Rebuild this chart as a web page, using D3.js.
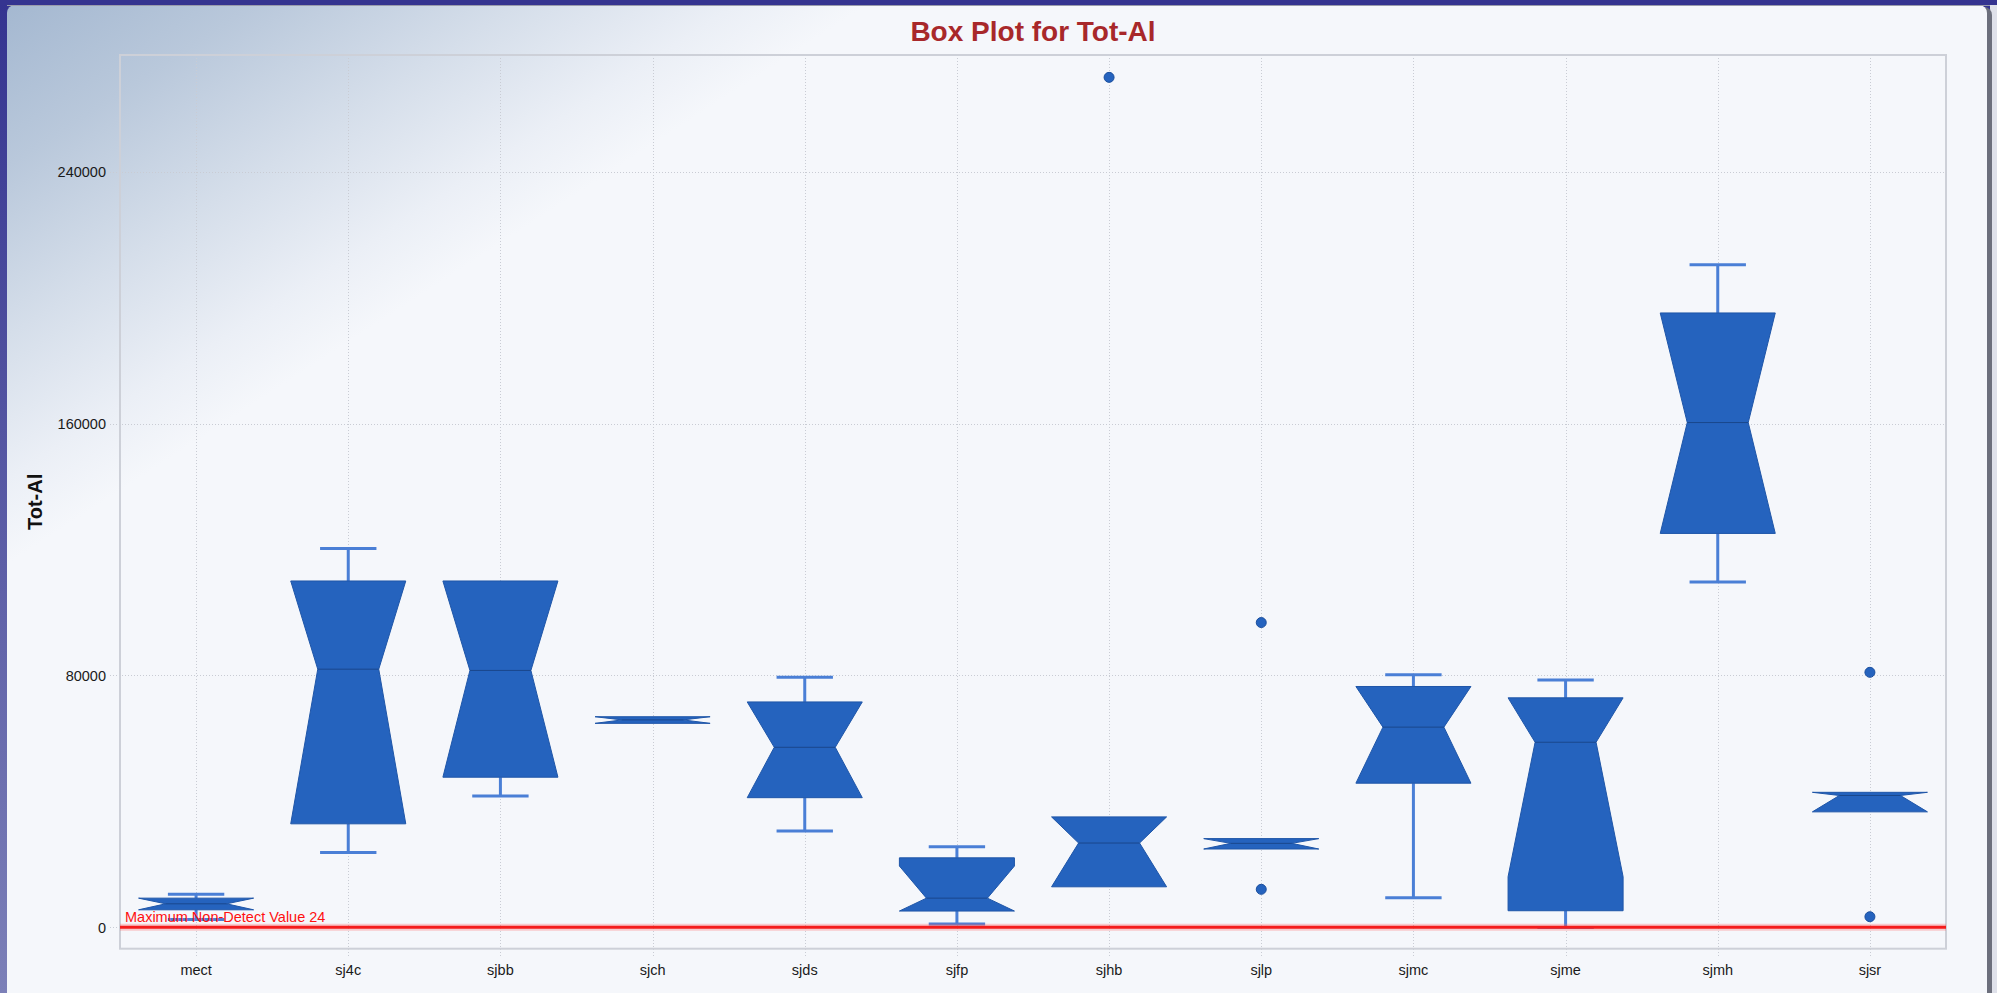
<!DOCTYPE html>
<html>
<head>
<meta charset="utf-8">
<script src="https://cdn.jsdelivr.net/npm/d3@7"></script>
<style>
  html, body { margin: 0; padding: 0; overflow: hidden; background: #3a3a93; }
  svg { display: block; }
  text { font-family: "Liberation Sans", Arial, sans-serif; }
</style>
</head>
<body>
<svg id="chart" width="1997" height="993"></svg>
<script>
// Sampling sites and Tot-Al box statistics per site
const categories  = ["mect", "sj4c", "sjbb", "sjch", "sjds", "sjfp", "sjhb", "sjlp", "sjmc", "sjme", "sjmh", "sjsr"];
const whiskerLow  = [2500,  23800,  41700,  64800, 30600,  1100, 12900, 24900,  9400,     0, 109700, 36700];
const lowerQuart  = [5600,  32900,  47700,  64800, 41200,  5200, 12900, 24900, 45800,  5300, 125100, 36700];
const medians     = [7500,  82000,  81600,  65900, 57200,  9300, 26800, 26700, 63600, 58800, 160300, 41900];
const upperQuart  = [9300, 110000, 110000,  66900, 71600, 22100, 35100, 28200, 76500, 72900, 195100, 42900];
const whiskerHigh = [10500, 120300, 110000, 66900, 79400, 25600, 35100, 28200, 80200, 78600, 210400, 42900];
// Notch limits (null = notch reaches the quartile)
const notchLow    = [null, null, null, null, null, null, null, null, null, 16100, null, null];
const notchHigh   = [null, null, null, null, null, 19500, null, null, null, null, null, null];
// Unusual values drawn as points
const outlierSite  = ["sjhb", "sjlp", "sjlp", "sjsr", "sjsr"];
const outlierValue = [269900, 96800, 12100, 81000, 3400];
// Value axis
const yTicks = [0, 80000, 160000, 240000];
const yDomain = [-6750, 277000];
const detectLimit = 24;
const detectLabel = "Maximum Non-Detect Value 24";
const titleText = "Box Plot for Tot-Al";
const yTitle = "Tot-Al";

const W = 1997, H = 993;
const plot = { left: 120, right: 1946, top: 55, bottom: 948.7 };
const svg = d3.select("#chart");
const defs = svg.append("defs");

// ---- frame ----
const sideGrad = defs.append("linearGradient").attr("id", "sideGrad")
  .attr("x1", 0).attr("y1", 0).attr("x2", 0).attr("y2", 1);
sideGrad.append("stop").attr("offset", 0).attr("stop-color", "#343390");
sideGrad.append("stop").attr("offset", 1).attr("stop-color", "#7c80b8");
svg.append("rect").attr("width", W).attr("height", H).attr("fill", "url(#sideGrad)");
svg.append("rect").attr("x", 0).attr("y", 0).attr("width", W).attr("height", 5).attr("fill", "#353490");
svg.append("rect").attr("x", 1990).attr("y", 5).attr("width", 7).attr("height", H).attr("fill", "#dfe1ea");
svg.append("rect").attr("x", 10).attr("y", 7).attr("width", 1982).attr("height", H + 10)
  .attr("rx", 8).attr("fill", "#6c6f7c");

const panelGrad = defs.append("linearGradient").attr("id", "panelGrad")
  .attr("gradientUnits", "userSpaceOnUse")
  .attr("x1", 0).attr("y1", 0).attr("x2", 260).attr("y2", 400);
panelGrad.append("stop").attr("offset", 0).attr("stop-color", "#a3b7d0");
panelGrad.append("stop").attr("offset", 0.3).attr("stop-color", "#b9c8db");
panelGrad.append("stop").attr("offset", 0.6).attr("stop-color", "#d5deea");
panelGrad.append("stop").attr("offset", 0.85).attr("stop-color", "#ebeff6");
panelGrad.append("stop").attr("offset", 1).attr("stop-color", "#f5f7fb");
svg.append("rect").attr("x", 7).attr("y", 5).attr("width", 1980).attr("height", H + 10)
  .attr("rx", 8).attr("fill", "url(#panelGrad)");
svg.append("line").attr("x1", 7).attr("x2", 1990).attr("y1", 5.5).attr("y2", 5.5)
  .attr("stroke", "#9a9cab").attr("stroke-width", 1);

// ---- scales ----
const x = d3.scaleBand().domain(categories).range([plot.left, plot.right]).padding(0);
const y = d3.scaleLinear().domain(yDomain).range([plot.bottom, plot.top]);
const boxW = x.bandwidth() * 0.756;
const capW = boxW * 0.49;
const indent = boxW * 0.235;
const cx = c => x(c) + x.bandwidth() / 2;

// ---- grid ----
const grid = svg.append("g").attr("stroke", "#c9ccd4").attr("stroke-width", 1)
  .attr("stroke-dasharray", "1,2").attr("shape-rendering", "crispEdges");
grid.selectAll(".vg").data(categories).join("line")
  .attr("x1", d => Math.round(cx(d)) + 0.5).attr("x2", d => Math.round(cx(d)) + 0.5)
  .attr("y1", plot.top).attr("y2", plot.bottom + 9);
grid.selectAll(".hg").data(yTicks).join("line")
  .attr("x1", plot.left - 10).attr("x2", plot.right)
  .attr("y1", d => Math.round(y(d)) + 0.5).attr("y2", d => Math.round(y(d)) + 0.5);

// plot border
svg.append("rect").attr("x", plot.left).attr("y", plot.top)
  .attr("width", plot.right - plot.left).attr("height", plot.bottom - plot.top)
  .attr("fill", "none").attr("stroke", "#cdd0d8").attr("stroke-width", 2);

// ---- axes text ----
const yAxis = d3.axisLeft(y).tickValues(yTicks).tickSize(0).tickPadding(14).tickFormat(d3.format("d"));
const gy = svg.append("g").attr("transform", `translate(${plot.left},0)`).call(yAxis);
gy.select(".domain").remove();
gy.selectAll("text").attr("font-size", 14.5).attr("fill", "#1a1a1a")
  .attr("font-family", "'Liberation Sans', Arial, sans-serif");

const xAxis = d3.axisBottom(x).tickSize(0).tickPadding(16);
const gx = svg.append("g").attr("transform", `translate(0,${plot.bottom})`).call(xAxis);
gx.select(".domain").remove();
gx.selectAll("text").attr("font-size", 14.5).attr("fill", "#1a1a1a")
  .attr("font-family", "'Liberation Sans', Arial, sans-serif");

svg.append("text").attr("transform", `translate(42,${(plot.top + plot.bottom) / 2}) rotate(-90)`)
  .attr("text-anchor", "middle").attr("font-size", 20).attr("font-weight", "bold")
  .attr("fill", "#111").text(yTitle);

svg.append("text").attr("x", (plot.left + plot.right) / 2).attr("y", 40.5)
  .attr("text-anchor", "middle").attr("font-size", 28).attr("font-weight", "bold")
  .attr("fill", "#a8282a").text(titleText);

// ---- boxes ----
const stats = categories.map((c, i) => ({
  c, wl: whiskerLow[i], q1: lowerQuart[i], med: medians[i], q3: upperQuart[i], wh: whiskerHigh[i],
  nl: notchLow[i] == null ? lowerQuart[i] : notchLow[i],
  nh: notchHigh[i] == null ? upperQuart[i] : notchHigh[i]
}));

const whiskerColor = "#4a7fd6";
const boxes = svg.append("g");
stats.forEach(s => {
  const m = cx(s.c), L = m - boxW / 2, R = m + boxW / 2;
  const g = boxes.append("g");
  if (s.wh > s.q3) {
    g.append("line").attr("x1", m).attr("x2", m).attr("y1", y(s.q3)).attr("y2", y(s.wh))
      .attr("stroke", whiskerColor).attr("stroke-width", 3);
    g.append("line").attr("x1", m - capW / 2).attr("x2", m + capW / 2).attr("y1", y(s.wh)).attr("y2", y(s.wh))
      .attr("stroke", whiskerColor).attr("stroke-width", 3);
  }
  if (s.wl < s.q1) {
    g.append("line").attr("x1", m).attr("x2", m).attr("y1", y(s.q1)).attr("y2", y(s.wl))
      .attr("stroke", whiskerColor).attr("stroke-width", 3);
    g.append("line").attr("x1", m - capW / 2).attr("x2", m + capW / 2).attr("y1", y(s.wl)).attr("y2", y(s.wl))
      .attr("stroke", whiskerColor).attr("stroke-width", 3);
  }
  const pts = [
    [L, y(s.q3)], [R, y(s.q3)], [R, y(s.nh)], [R - indent, y(s.med)], [R, y(s.nl)], [R, y(s.q1)],
    [L, y(s.q1)], [L, y(s.nl)], [L + indent, y(s.med)], [L, y(s.nh)]
  ];
  g.append("path").attr("d", d3.line()(pts) + "Z")
    .attr("fill", "#2563be").attr("stroke", "#1f56a8").attr("stroke-width", 1)
    .attr("stroke-linejoin", "miter");
  g.append("line").attr("x1", L + indent).attr("x2", R - indent).attr("y1", y(s.med)).attr("y2", y(s.med))
    .attr("stroke", "#1a478c").attr("stroke-width", 1);
});

// ---- outliers ----
svg.append("g").selectAll("circle").data(outlierValue).join("circle")
  .attr("cx", (d, i) => cx(outlierSite[i])).attr("cy", d => y(d)).attr("r", 5)
  .attr("fill", "#2563be").attr("stroke", "#1b4f9e").attr("stroke-width", 1);

// ---- detection limit line ----
svg.append("line").attr("x1", plot.left).attr("x2", plot.right)
  .attr("y1", y(detectLimit)).attr("y2", y(detectLimit))
  .attr("stroke", "#ff6060").attr("stroke-opacity", 0.3).attr("stroke-width", 7);
svg.append("line").attr("x1", plot.left).attr("x2", plot.right)
  .attr("y1", y(detectLimit)).attr("y2", y(detectLimit))
  .attr("stroke", "#f41c1c").attr("stroke-width", 3);
svg.append("text").attr("x", plot.left + 5).attr("y", y(detectLimit) - 5)
  .attr("font-size", 14.5).attr("fill", "#ff1010").text(detectLabel);
</script>
</body>
</html>
